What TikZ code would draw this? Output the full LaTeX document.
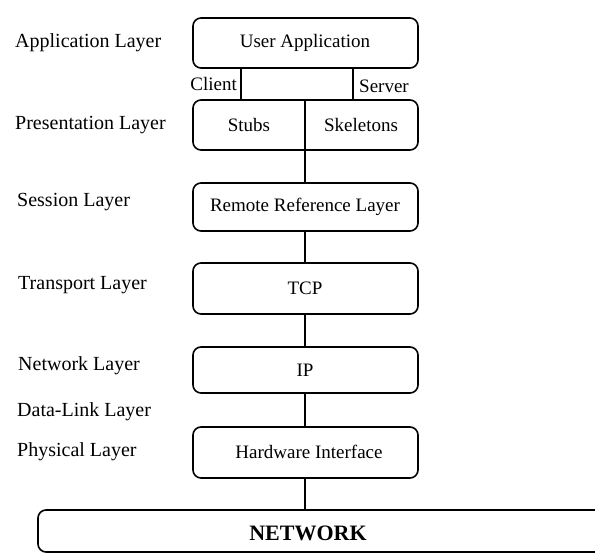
\documentclass[tikz,border=0pt]{standalone}
\usepackage{fontspec}
\setmainfont{LiberationSerif}[Extension=.ttf,UprightFont=*-Regular,BoldFont=*-Bold,ItalicFont=*-Italic,BoldItalicFont=*-BoldItalic]
\begin{document}
\begin{tikzpicture}[x=1pt,y=-1pt,
  lay/.style={draw,line width=1.6pt,rounded corners=8pt},
  lbl/.style={anchor=west,inner sep=0pt,font=\fontsize{20}{22}\selectfont},
  txt/.style={inner sep=0pt,font=\fontsize{19}{21}\selectfont},
  conn/.style={line width=1.6pt}]
\clip (0,0) rectangle (595,554);
\useasboundingbox (0,0) rectangle (595,554);
% boxes
\draw[lay] (193,18) rectangle (418,68);
\node[txt] (ua) at (305,43) {User Application};
\draw[lay] (193,100) rectangle (418,150);
\node[txt] (stubs) at (249,125) {Stubs};
\node[txt] (skel) at (361,125) {Skeletons};
\draw[lay] (193,183) rectangle (418,231);
\node[txt] (rrl) at (305,207) {Remote Reference Layer};
\draw[lay] (193,263) rectangle (418,314);
\node[txt] (tcp) at (305,288) {TCP};
\draw[lay] (193,347) rectangle (418,393);
\node[txt] (ip) at (305,370) {IP};
\draw[lay] (193,427) rectangle (418,478);
\node[txt] (hw) at (309,452) {Hardware Interface};
\draw[lay] (38,510) rectangle (610,552);
\node[txt,font=\bfseries\fontsize{22}{24}\selectfont] (net) at (308,533) {NETWORK};
% connectors
\coordinate (c1) at (241,68); \coordinate (c2) at (241,100);
\coordinate (s1) at (353,68); \coordinate (s2) at (353,100);
\draw[conn] (c1) -- (c2);
\draw[conn] (s1) -- (s2);
\coordinate (d0) at (305,100); \coordinate (d1) at (305,183);
\draw[conn] (d0) -- (d1);
\coordinate (e0) at (305,231); \coordinate (e1) at (305,263);
\draw[conn] (e0) -- (e1);
\coordinate (f0) at (305,314); \coordinate (f1) at (305,347);
\draw[conn] (f0) -- (f1);
\coordinate (g0) at (305,393); \coordinate (g1) at (305,427);
\draw[conn] (g0) -- (g1);
\coordinate (h0) at (305,478); \coordinate (h1) at (305,510);
\draw[conn] (h0) -- (h1);
\node[txt,anchor=east] (client) at (237,84) {Client};
\node[txt,anchor=west] (server) at (359,86) {Server};
% layer labels
\node[lbl] (l1) at (15,43) {Application Layer};
\node[lbl] (l2) at (15,125) {Presentation Layer};
\node[lbl] (l3) at (17,202) {Session Layer};
\node[lbl] (l4) at (18,285) {Transport Layer};
\node[lbl] (l5) at (18,366) {Network Layer};
\node[lbl] (l6) at (17,412) {Data-Link Layer};
\node[lbl] (l7) at (17,452) {Physical Layer};
\end{tikzpicture}
\end{document}
